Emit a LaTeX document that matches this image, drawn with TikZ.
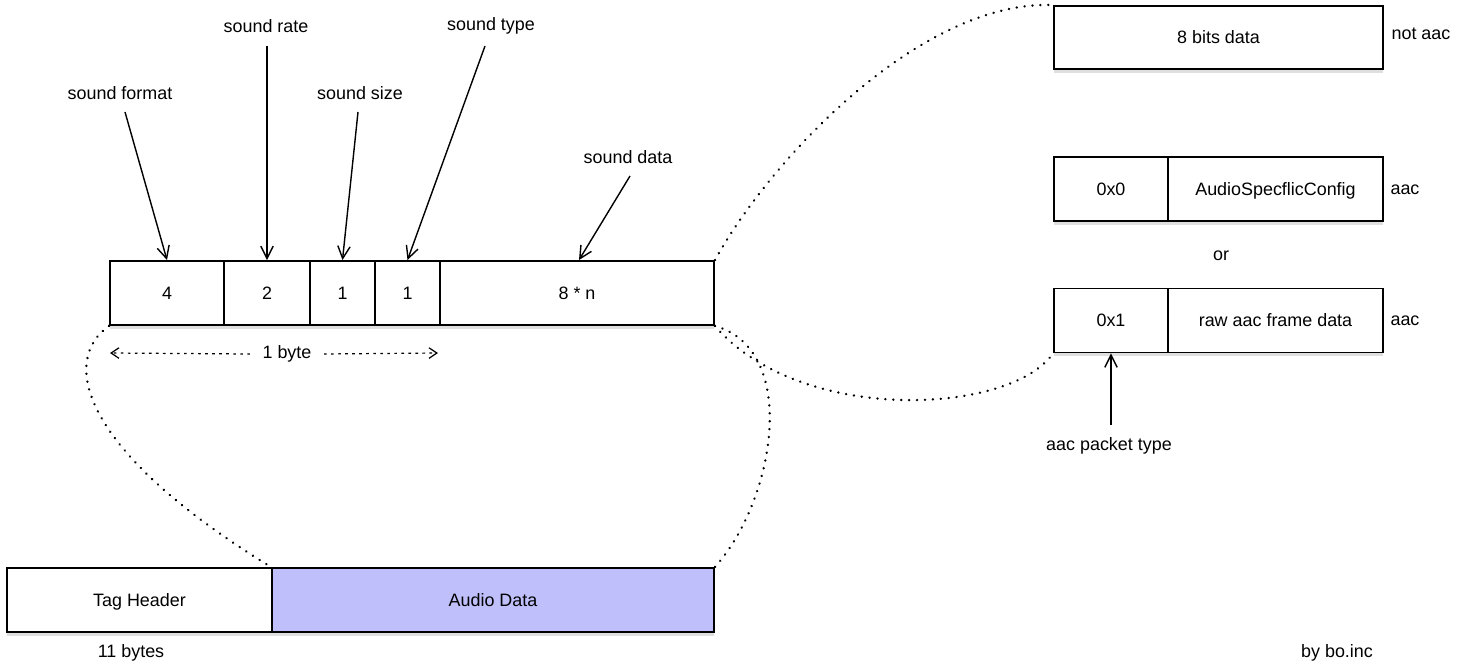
\documentclass[tikz,border=0pt]{standalone}
\usepackage{fontspec}
\setmainfont{Liberation Sans}
\usetikzlibrary{arrows.meta,shadows}
\definecolor{lav}{RGB}{191,191,252}
\begin{document}
\begin{tikzpicture}[x=0.02cm,y=-0.02cm,
  font=\fontsize{10.2}{12}\selectfont,
  cell/.style={draw, line width=1.1pt, fill=white, inner sep=0pt,
    minimum height=64*0.02cm, text height=0.74em, text depth=0em,
    drop shadow={shadow xshift=0pt, shadow yshift=-2pt, opacity=0.25}},
  lbl/.style={inner sep=1pt},
  arr/.style={-{Straight Barb[length=7pt,width=7pt]}, line width=0.8pt},
  dots/.style={line width=1.5pt, dash pattern=on 0.01pt off 4.5pt, line cap=round},
  bytearr/.style={-{Straight Barb[length=4.5pt,width=6pt]}, line width=0.7pt, dash pattern=on 1.5pt off 2.5pt}
]
\useasboundingbox (0,0) rectangle (1461,672);

% top row
\node[cell, minimum width=114*0.02cm] (f4) at (167,293) {4};
\node[cell, minimum width=86*0.02cm] (f2) at (267,293) {2};
\node[cell, minimum width=65*0.02cm] (f1a) at (342.5,293) {1};
\node[cell, minimum width=65*0.02cm] (f1b) at (407.5,293) {1};
\node[cell, minimum width=274*0.02cm] (fn) at (577,293) {8 * n};

% labels
\node[lbl] (lformat) at (120,93) {sound format};
\node[lbl] (lrate) at (266,26) {sound rate};
\node[lbl] (lsize) at (360,93) {sound size};
\node[lbl] (ltype) at (491,26) {sound type};
\node[lbl] (ldata) at (628,157) {sound data};

\coordinate (sformat) at (125,112);
\coordinate (srate) at (267,46);
\coordinate (ssize) at (358,112);
\coordinate (stype) at (485,46);
\coordinate (sdata) at (630,176);
\draw[arr] (sformat) -- (f4.north);
\draw[arr] (srate) -- (f2.north);
\draw[arr] (ssize) -- (f1a.north);
\draw[arr] (stype) -- (f1b.north);
\draw[arr] (sdata) -- ([xshift=2*0.02cm]fn.north);

% 1 byte
\node[lbl] (byte) at (287,354) {1 byte};
\coordinate (bl) at (110,353);
\coordinate (br) at (438,353);
\draw[bytearr] ([xshift=-6pt]byte.west) -- (bl);
\draw[bytearr] ([xshift=6pt]byte.east) -- (br);

% bottom row
\node[cell, minimum width=265*0.02cm] (tag) at (139.5,600) {Tag Header};
\node[cell, fill=lav, minimum width=442*0.02cm] (audio) at (493,600) {Audio Data};
\node[lbl] (bytes11) at (131,653) {11 bytes};
\node[lbl] (by) at (1337,653) {by bo.inc};

% right side
\node[cell, minimum width=329*0.02cm, minimum height=63*0.02cm] (r8) at (1218.5,37.5) {8 bits data};
\node[lbl] (notaac) at (1421,34) {not aac};

\node[cell, minimum width=114*0.02cm] (c00) at (1111,189) {0x0};
\node[cell, minimum width=215*0.02cm] (casc) at (1275.5,189) {AudioSpecflicConfig};
\node[lbl] (aac1) at (1405,190) {aac};

\node[lbl] (or) at (1221,256) {or};

\node[cell, minimum width=114*0.02cm] (c01) at (1111,320.5) {0x1};
\node[cell, minimum width=215*0.02cm] (craw) at (1275.5,320.5) {raw aac frame data};
\node[lbl] (aac2) at (1405,321) {aac};

\node[lbl] (ptype) at (1109,446) {aac packet type};
\coordinate (sptype) at (1111,425);
\draw[arr] (sptype) -- (c01.south);

% dotted curves
\draw[dots] (f4.south west) .. controls (60,360) and (80,450) .. (audio.north west);
\draw[dots] (fn.south east) .. controls (800,350) and (775,500) .. (audio.north east);
\draw[dots] (fn.south east) .. controls (800,425) and (1010,415) .. (c01.south west);
\draw[dots] (fn.north east) .. controls (770,160) and (920,0) .. (r8.north west);
\end{tikzpicture}
\end{document}
